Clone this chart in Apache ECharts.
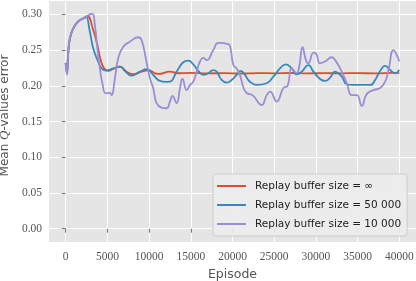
<!DOCTYPE html>
<html>
<head>
<meta charset="utf-8">
<script src="https://cdn.jsdelivr.net/npm/echarts@6/dist/echarts.min.js"></script>
<style>html,body{margin:0;padding:0;background:#fff;}#c{width:416px;height:281px;}</style>
</head>
<body>
<div id="c"></div>
<script>
const seriesNames = ['Replay buffer size = ∞', 'Replay buffer size = 50 000', 'Replay buffer size = 10 000'];
const xTicks = [0, 5000, 10000, 15000, 20000, 25000, 30000, 35000, 40000];
const yTicks = [0, 0.05, 0.10, 0.15, 0.20, 0.25, 0.30];

const bufInf = [[0,0.232],[150,0.218],[300,0.245],[500,0.266],[900,0.280],[1500,0.290],[2300,0.2955],[2600,0.2977],[3300,0.278],[3800,0.257],[4200,0.236],[4600,0.2245],[5100,0.2212],[5700,0.2236],[6500,0.2268],[7300,0.2198],[8100,0.2162],[9100,0.2198],[9900,0.2218],[10700,0.2176],[11100,0.2166],[12500,0.2198],[13500,0.2176],[15000,0.2180],[17000,0.2174],[19000,0.2178],[21000,0.2172],[23000,0.2178],[25000,0.2175],[27000,0.2179],[29000,0.2174],[31000,0.2177],[33000,0.2175],[35000,0.2178],[37000,0.2174],[39000,0.2180],[40000,0.2182]];

const buf50k = [[0,0.232],[150,0.218],[300,0.245],[500,0.266],[900,0.280],[1500,0.290],[2300,0.2955],[2450,0.2967],[2900,0.2757],[3300,0.2525],[3900,0.2338],[4300,0.2245],[4900,0.2212],[5700,0.2245],[6500,0.2268],[7100,0.2208],[7900,0.2142],[8900,0.2198],[9700,0.2232],[10500,0.2152],[11300,0.2068],[12000,0.2055],[12500,0.2058],[13300,0.2198],[14100,0.233],[14700,0.2352],[15300,0.230],[15900,0.2208],[16500,0.2152],[17100,0.2176],[17700,0.222],[18100,0.2198],[18700,0.2082],[19300,0.2045],[19900,0.2082],[20500,0.2152],[21000,0.2208],[21500,0.2152],[22000,0.2068],[22900,0.2012],[24100,0.2036],[24900,0.2128],[25700,0.2245],[26400,0.230],[27100,0.2245],[27700,0.216],[28300,0.2198],[29100,0.229],[29700,0.2198],[30500,0.2096],[31100,0.2068],[31700,0.2114],[32300,0.2198],[33100,0.2128],[33700,0.2022],[34400,0.2012],[36500,0.2012],[37100,0.2082],[37700,0.2208],[38300,0.2278],[38900,0.222],[39500,0.2176],[40000,0.222]];

const buf10k = [[0,0.2316],[150,0.2155],[300,0.245],[500,0.266],[900,0.280],[1500,0.290],[2300,0.295],[2900,0.300],[3200,0.301],[3500,0.285],[3800,0.2525],[4100,0.2245],[4400,0.2036],[4800,0.1896],[5300,0.190],[5500,0.187],[5900,0.2106],[6300,0.2385],[6900,0.2548],[7700,0.2618],[8700,0.268],[9100,0.264],[9600,0.2385],[10100,0.2106],[10500,0.1966],[10900,0.1757],[11500,0.1695],[12100,0.1686],[12500,0.178],[12800,0.186],[13300,0.1757],[13700,0.1966],[14000,0.2096],[14500,0.194],[14900,0.201],[15300,0.2058],[15700,0.2198],[16100,0.234],[16500,0.239],[16900,0.236],[17700,0.250],[18300,0.260],[19500,0.2585],[19800,0.250],[20100,0.229],[20500,0.224],[20900,0.215],[21300,0.198],[21700,0.190],[22400,0.187],[23500,0.173],[24100,0.187],[24500,0.192],[25300,0.178],[26100,0.197],[26600,0.200],[27100,0.2245],[27700,0.2176],[28000,0.2268],[28400,0.254],[28800,0.236],[29100,0.2316],[29700,0.2464],[30000,0.2455],[30500,0.2316],[31100,0.234],[31900,0.240],[32300,0.236],[32900,0.2245],[33700,0.2036],[34300,0.187],[34900,0.187],[35500,0.172],[36100,0.1887],[36900,0.194],[37700,0.197],[38300,0.2058],[38700,0.222],[39300,0.250],[39700,0.243],[40000,0.234]];

const colors = ['#E24A33', '#348ABD', '#988ED5'];
const seriesData = [bufInf, buf50k, buf10k];

const chart = echarts.init(document.getElementById('c'), null, {renderer: 'canvas'});
const tickFont = {fontFamily: 'Liberation Serif', fontSize: 11.5, color: '#555555'};
chart.setOption({
  animation: false,
  backgroundColor: '#ffffff',
  grid: {left: 49, right: 0, top: 1, bottom: 39, show: true, backgroundColor: '#E5E5E5', borderWidth: 0, containLabel: false, outerBoundsMode: 'none'},
  xAxis: {
    type: 'value', min: -2000, max: 42000,
    name: 'Episode', nameLocation: 'middle', nameGap: 25,
    nameTextStyle: {fontFamily: 'DejaVu Sans', fontSize: 12.5, color: '#555555'},
    axisLine: {show: false},
    axisTick: {show: true, length: 4, lineStyle: {color: '#555555', width: 0.8}, customValues: xTicks},
    axisLabel: Object.assign({customValues: xTicks, margin: 9, formatter: v => String(v)}, tickFont),
    splitLine: {show: true, lineStyle: {color: '#ffffff', width: 1}, customValues: xTicks}
  },
  yAxis: {
    type: 'value', min: -0.0186, max: 0.3187,
    name: '{a|Mean }{q|Q}{a|-values error}', nameLocation: 'middle', nameGap: 38,
    nameTextStyle: {padding: [0, 0, 0, 12], rich: {a: {fontFamily: 'DejaVu Sans', fontSize: 12, color: '#555555'}, q: {fontFamily: 'Liberation Serif', fontStyle: 'italic', fontSize: 13, color: '#555555'}}},
    axisLine: {show: false},
    axisTick: {show: true, length: 4, lineStyle: {color: '#555555', width: 0.8}, customValues: yTicks},
    axisLabel: Object.assign({customValues: yTicks, margin: 7, formatter: v => v.toFixed(2)}, tickFont),
    splitLine: {show: true, lineStyle: {color: '#ffffff', width: 1}, customValues: yTicks}
  },
  legend: {
    orient: 'vertical', left: 213, top: 174,
    padding: [5, 6, 5, 4], itemGap: 5, itemWidth: 29, itemHeight: 2, icon: 'rect',
    backgroundColor: 'rgba(236,236,236,0.9)', borderColor: '#CCCCCC', borderWidth: 1, borderRadius: 3,
    textStyle: {fontFamily: 'DejaVu Sans', fontSize: 10.5, color: '#222222', lineHeight: 14, padding: [0, 0, 0, 4]},
    data: seriesNames
  },
  series: seriesData.map((d, i) => ({
    name: seriesNames[i], type: 'line', data: d, showSymbol: false, symbol: 'none',
    smooth: 0.5,
    lineStyle: {color: colors[i], width: 1.8}, itemStyle: {color: colors[i]}
  }))
});
</script>
</body>
</html>
